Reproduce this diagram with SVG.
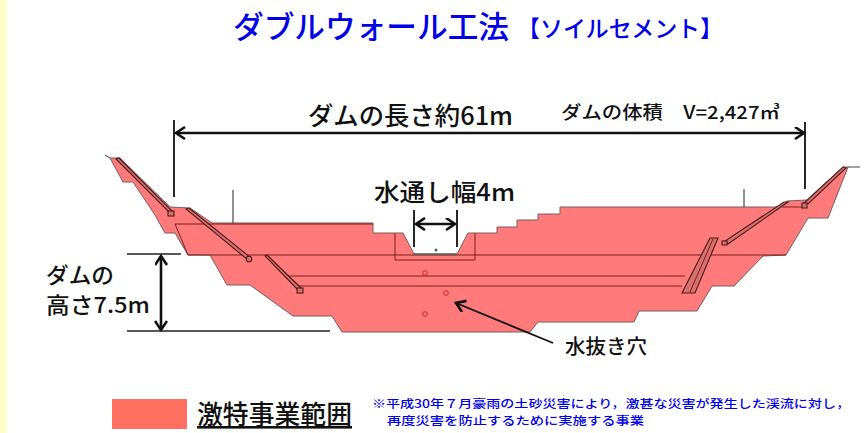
<svg xmlns="http://www.w3.org/2000/svg" width="867" height="433" viewBox="0 0 867 433">
<style>
text{font-family:"Noto Sans CJK JP","DejaVu Sans",sans-serif;fill:#111;font-weight:500}
.b{fill:#0000e6}
.l{fill:none;stroke:#7a1f1f;stroke-width:1}
.d{fill:none;stroke:#111;stroke-width:2.6}
.t{fill:none;stroke:#222;stroke-width:1.5}
.h{fill:none;stroke:#c22;stroke-width:1}
.bar{fill:#d97070;stroke:#4a1a1a;stroke-width:1.1}
</style>
<defs><marker id="a" markerWidth="14" markerHeight="14" refX="11" refY="6.5" orient="auto-start-reverse" markerUnits="userSpaceOnUse"><path d="M2 0.5L11 6.5L2 12.5" fill="none" stroke="#111" stroke-width="2.6"/></marker></defs>
<rect width="867" height="433" fill="#fff"/>
<rect width="7" height="433" fill="#ffffcc"/>
<g id="title"><text class="b" x="233" y="38" font-size="31" textLength="276" lengthAdjust="spacingAndGlyphs">ダブルウォール工法</text>
<text class="b" x="517" y="37" font-size="23" font-weight="700" textLength="206" lengthAdjust="spacingAndGlyphs">【ソイルセメント】</text></g>
<g id="dam">
<path d="M110 158L120 158L170 207L190 208L212 223L373 223L373 233L403 233L414 254L457 254L468 233L497 233L497 227L517 227L517 220L538 220L538 214L560 214L560 207L783 207L787 201L807 200L843 167L848 167L828 218L808 218L786 255L763 256L734 286L712 286L697 311L639 311L634 322L538 322L530 332L342 332L332 316L293 316L250 285L227 285L210 255L188 255L175 233L165 233L155 215L133 182L123 182Z" fill="#ff7b7b" stroke="#7a5a5a" stroke-width="1"/>
<path class="l" d="M395 233V260H475V233M175 224H373M188 255H786M288 276H685M297 286H682M783 207H807M175 224L188 255"/>
<path d="M414 254H457" fill="none" stroke="#2f6b5a" stroke-width="1.2"/>
<circle cx="436" cy="250" r="1.5" fill="#2f6b5a"/>
<path class="t" d="M233 190V223M744 189V207" style="stroke-width:1"/>
<path d="M105 155L110 158M848 167H860" fill="none" stroke="#444" stroke-width="1"/>
<g id="anchors">
<path class="bar" d="M119 158L172 211L170 213L116 159Z"/><rect class="bar" x="168" y="211" width="6" height="5"/>
<path class="bar" d="M189 208L251 258L248 260L186 209Z"/><circle cx="249" cy="259" r="2.8" class="bar"/>
<path class="bar" d="M267 255L302 289L299 291L265 256Z"/><rect class="bar" x="297" y="288" width="6" height="5"/>
<path class="bar" d="M710 238L718 238L695 293L682 293Z"/><path class="l" d="M713 239L690 292"/>
<path class="bar" d="M784 202L788 202L728 244L725 241Z"/><rect class="bar" x="722" y="241" width="5" height="4"/>
<path class="bar" d="M843 167L846 168L808 204L804 203Z"/><rect class="bar" x="802" y="203" width="5" height="5"/>
</g>
<circle class="h" cx="425" cy="273" r="2.3"/><circle class="h" cx="425" cy="314" r="2.3"/><circle class="h" cx="446" cy="293" r="2.3"/>
</g>
<g id="connectors">
<path class="d" d="M176 133H804" marker-start="url(#a)" marker-end="url(#a)"/>
<path class="t" d="M174 120V197M805 122V189M414 210V247M457 210V247" style="stroke:#111;stroke-width:1.8"/>
<path class="d" d="M416 224H455" marker-start="url(#a)" marker-end="url(#a)"/>
<path class="d" d="M161 256V330" marker-start="url(#a)" marker-end="url(#a)"/>
<path class="t" d="M127 254H181M127 331H330"/>
<path d="M553 343L456 303" fill="none" stroke="#111" stroke-width="1.8" marker-end="url(#a)"/>
</g>
<g id="labels">
<text x="308" y="125" font-size="25" textLength="205" lengthAdjust="spacingAndGlyphs">ダムの長さ約61m</text>
<text x="561" y="119" font-size="18" textLength="219" lengthAdjust="spacingAndGlyphs">ダムの体積　V=2,427㎥</text>
<text x="374" y="201" font-size="24" textLength="141" lengthAdjust="spacingAndGlyphs">水通し幅4m</text>
<text x="46" y="283" font-size="22" textLength="68" lengthAdjust="spacingAndGlyphs">ダムの</text>
<text x="46" y="313" font-size="22" textLength="104" lengthAdjust="spacingAndGlyphs">高さ7.5m</text>
<text x="565" y="354" font-size="20" textLength="82" lengthAdjust="spacingAndGlyphs">水抜き穴</text>
</g>
<g id="legend">
<rect x="112" y="399" width="75" height="30" fill="#ff7060"/>
<text x="197" y="424" font-size="26" text-decoration="underline" textLength="155" lengthAdjust="spacingAndGlyphs">激特事業範囲</text>
<text class="b" x="372" y="408" font-size="11.5" textLength="478" lengthAdjust="spacingAndGlyphs">※平成30年７月豪雨の土砂災害により，激甚な災害が発生した渓流に対し，</text>
<text class="b" x="387" y="425" font-size="11.5" textLength="257" lengthAdjust="spacingAndGlyphs">再度災害を防止するために実施する事業</text>
</g>
</svg>
